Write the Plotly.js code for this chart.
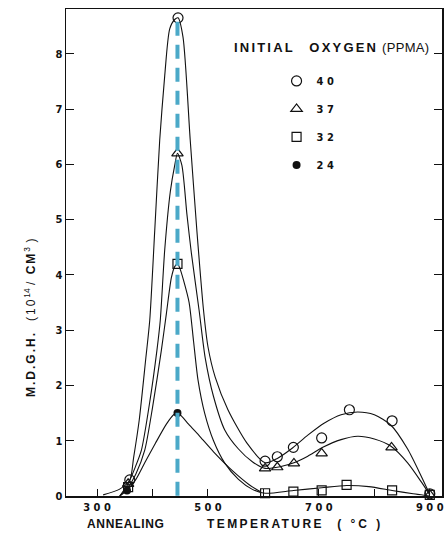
<!DOCTYPE html>
<html>
<head>
<meta charset="utf-8">
<script src="https://cdn.plot.ly/plotly-3.0.1.min.js"></script>
<style>html,body{margin:0;padding:0;background:#fff;}#chart{width:446px;height:536px;}</style>
</head>
<body>
<div id="chart"></div>
<script>
// ---- measured points (markers) ----
const o40_x = [359, 446, 603, 625, 654, 705, 755, 832, 900];
const o40_y = [0.29, 8.65, 0.63, 0.71, 0.88, 1.05, 1.56, 1.36, 0.04];
const o37_x = [356, 445, 603, 625, 655, 705, 831, 900];
const o37_y = [0.22, 6.2, 0.5, 0.52, 0.59, 0.77, 0.88, 0.02];
const o32_x = [356, 445, 603, 654, 705, 750, 832, 900];
const o32_y = [0.16, 4.2, 0.05, 0.08, 0.1, 0.2, 0.1, 0.02];
const o24_x = [354, 445];
const o24_y = [0.1, 1.5];

// ---- hand-drawn curves ----
const c40_x = [311, 340, 359, 366, 376, 388, 395, 404, 413, 422, 431, 440, 446, 455, 468, 480, 492, 500, 513, 536, 570, 603, 625, 650, 680, 710, 740, 770, 800, 830, 860, 885, 900];
const c40_y = [0.02, 0.12, 0.29, 0.7, 1.37, 2.5, 3.18, 4.8, 6.44, 7.6, 8.45, 8.62, 8.65, 8.3, 6.44, 4.8, 3.36, 2.7, 2.15, 1.56, 0.96, 0.6, 0.68, 0.85, 1.1, 1.32, 1.47, 1.52, 1.47, 1.28, 0.85, 0.35, 0.03];
const c37_x = [341, 356, 368, 380, 395, 408, 414, 422, 432, 440, 445, 453, 462, 470, 484, 495, 510, 530, 555, 580, 603, 630, 655, 680, 707, 740, 770, 800, 830, 860, 885, 900];
const c37_y = [0.0, 0.22, 0.5, 0.83, 1.7, 2.64, 3.18, 4.45, 5.5, 5.98, 6.2, 5.98, 5.1, 4.4, 3.36, 2.5, 1.8, 1.2, 0.85, 0.62, 0.5, 0.53, 0.6, 0.72, 0.88, 1.02, 1.08, 1.03, 0.9, 0.6, 0.25, 0.02];
const c32_x = [341, 356, 370, 386, 400, 416, 425, 434, 440, 445, 450, 456, 466, 474, 482, 494, 510, 530, 555, 580, 603, 654, 705, 750, 790, 832, 870, 900];
const c32_y = [0.0, 0.16, 0.4, 0.83, 1.6, 2.64, 3.3, 3.95, 4.15, 4.2, 4.1, 3.9, 3.5, 2.8, 2.1, 1.5, 1.0, 0.6, 0.3, 0.12, 0.05, 0.1, 0.15, 0.19, 0.17, 0.1, 0.04, 0.0];
const c24_x = [341, 354, 370, 386, 405, 425, 438, 445, 452, 465, 486, 510, 545, 575, 594];
const c24_y = [0.0, 0.1, 0.3, 0.6, 0.95, 1.3, 1.47, 1.5, 1.45, 1.3, 1.07, 0.8, 0.45, 0.2, 0.08];

// ---- axis ticks ----
const xTickVals = [300, 500, 700, 900];
const xTickText = ['3 0 0', '5 0 0', '7 0 0', '9 0 0'];
const xAllTicks = [300, 400, 500, 600, 700, 800, 900];
const yTickVals = [0, 1, 2, 3, 4, 5, 6, 7, 8];
const peakX = 445;

const FONT = '"Liberation Sans Narrow", "DejaVu Sans Condensed", "Liberation Sans", Arial, sans-serif';
const WIDE = '"Liberation Sans", "DejaVu Sans", Arial, sans-serif';

function curve(x, y) {
  return {x: x, y: y, type: 'scatter', mode: 'lines', showlegend: false, hoverinfo: 'skip',
          line: {color: '#111', width: 1.1, shape: 'spline', smoothing: 0.7}, cliponaxis: false};
}
function pts(x, y, name, marker, group) {
  return {x: x, y: y, type: 'scatter', mode: 'markers', name: name, legendgroup: group,
          marker: marker, cliponaxis: false};
}

const data = [
  curve(c40_x, c40_y), curve(c37_x, c37_y), curve(c32_x, c32_y), curve(c24_x, c24_y),
  pts(o40_x, o40_y, '4 0', {symbol: 'circle-open', size: 10, color: '#111', line: {width: 1.2}}, 'a'),
  pts(o37_x, o37_y, '3 7', {symbol: 'triangle-up-open', size: 10, color: '#111', line: {width: 1.2}}, 'b'),
  pts(o32_x, o32_y, '3 2', {symbol: 'square-open', size: 9, color: '#111', line: {width: 1.2}}, 'c'),
  pts(o24_x, o24_y, '2 4', {symbol: 'circle', size: 8, color: '#111'}, 'd')
];

const SP = (s, px) => '<span style="letter-spacing:' + px + 'px">' + s + '</span>';

const layout = {
  width: 446, height: 536,
  margin: {l: 66, r: 4, t: 9, b: 40},
  paper_bgcolor: '#fff', plot_bgcolor: '#fff',
  showlegend: true,
  legend: {x: 0.56, xanchor: 'left', y: 0.882, yanchor: 'top', bgcolor: 'rgba(0,0,0,0)',
           font: {family: FONT, size: 11, color: '#111', weight: 'bold'}, tracegroupgap: 9,
           itemwidth: 30},
  xaxis: {range: [244, 922], tickvals: xTickVals, ticktext: xTickText, ticks: 'inside', ticklen: 7,
          minor: {tickvals: xAllTicks, ticks: 'inside', ticklen: 7, tickcolor: '#111', showgrid: false},
          tickcolor: '#111', showline: true, linecolor: '#111', linewidth: 1.5, mirror: true,
          showgrid: false, zeroline: false,
          tickfont: {family: FONT, size: 11, color: '#111', weight: 'bold'}},
  xaxis2: {range: [244, 922], overlaying: 'x', side: 'top', tickvals: xAllTicks, ticks: 'inside', ticklen: 7,
           tickcolor: '#111', showticklabels: false, showgrid: false, zeroline: false, showline: false},
  yaxis: {range: [0, 8.81], tickvals: yTickVals, ticks: 'inside', ticklen: 8, tickcolor: '#111',
          showline: true, linecolor: '#111', linewidth: 1.5, mirror: 'ticks', showgrid: false, zeroline: false,
          tickfont: {family: FONT, size: 11, color: '#111', weight: 'bold'}},
  shapes: [{type: 'line', xref: 'x', yref: 'y', x0: peakX, x1: peakX, y0: 8.58, y1: -0.08,
            line: {color: '#4BA9C8', width: 4, dash: '14px,9px'}, layer: 'above'}],
  annotations: [
    {xref: 'paper', yref: 'paper', x: (232 - 66) / 376, y: (496 - 47) / 487, xanchor: 'left', yanchor: 'middle',
     showarrow: false, text: '<b>' + SP('INITIAL', 2.2) + '    ' + SP('OXYGEN', 2.2) + '</b>' + SP(' (PPMA)', 0.3),
     font: {family: WIDE, size: 13, color: '#111'}},
    {xref: 'paper', yref: 'paper', x: (30 - 66) / 376, y: (496 - 318) / 487, xanchor: 'center', yanchor: 'middle',
     showarrow: false, textangle: -90,
     text: '<b>' + SP('M.D.G.H.', 2) + '</b>   ' + SP('(10', 2) + '<sup>14</sup> ' + SP('/ <b>CM</b>', 2) + '<sup>3</sup>' + SP(' )', 1),
     font: {family: WIDE, size: 12, color: '#111'}},
    {xref: 'paper', yref: 'paper', x: (85 - 66) / 376, y: -(524 - 496) / 487, xanchor: 'left', yanchor: 'middle',
     showarrow: false, text: '<b>' + SP('ANNEALING', 0.7) + '</b>', font: {family: WIDE, size: 12, color: '#111'}},
    {xref: 'paper', yref: 'paper', x: (205 - 66) / 376, y: -(524 - 496) / 487, xanchor: 'left', yanchor: 'middle',
     showarrow: false, text: '<b>' + SP('TEMPERATURE', 2.4) + '    ' + SP('( °C )', 3) + '</b>',
     font: {family: WIDE, size: 12, color: '#111'}}
  ]
};

Plotly.newPlot('chart', data, layout, {staticPlot: true, displayModeBar: false});
</script>
</body>
</html>
